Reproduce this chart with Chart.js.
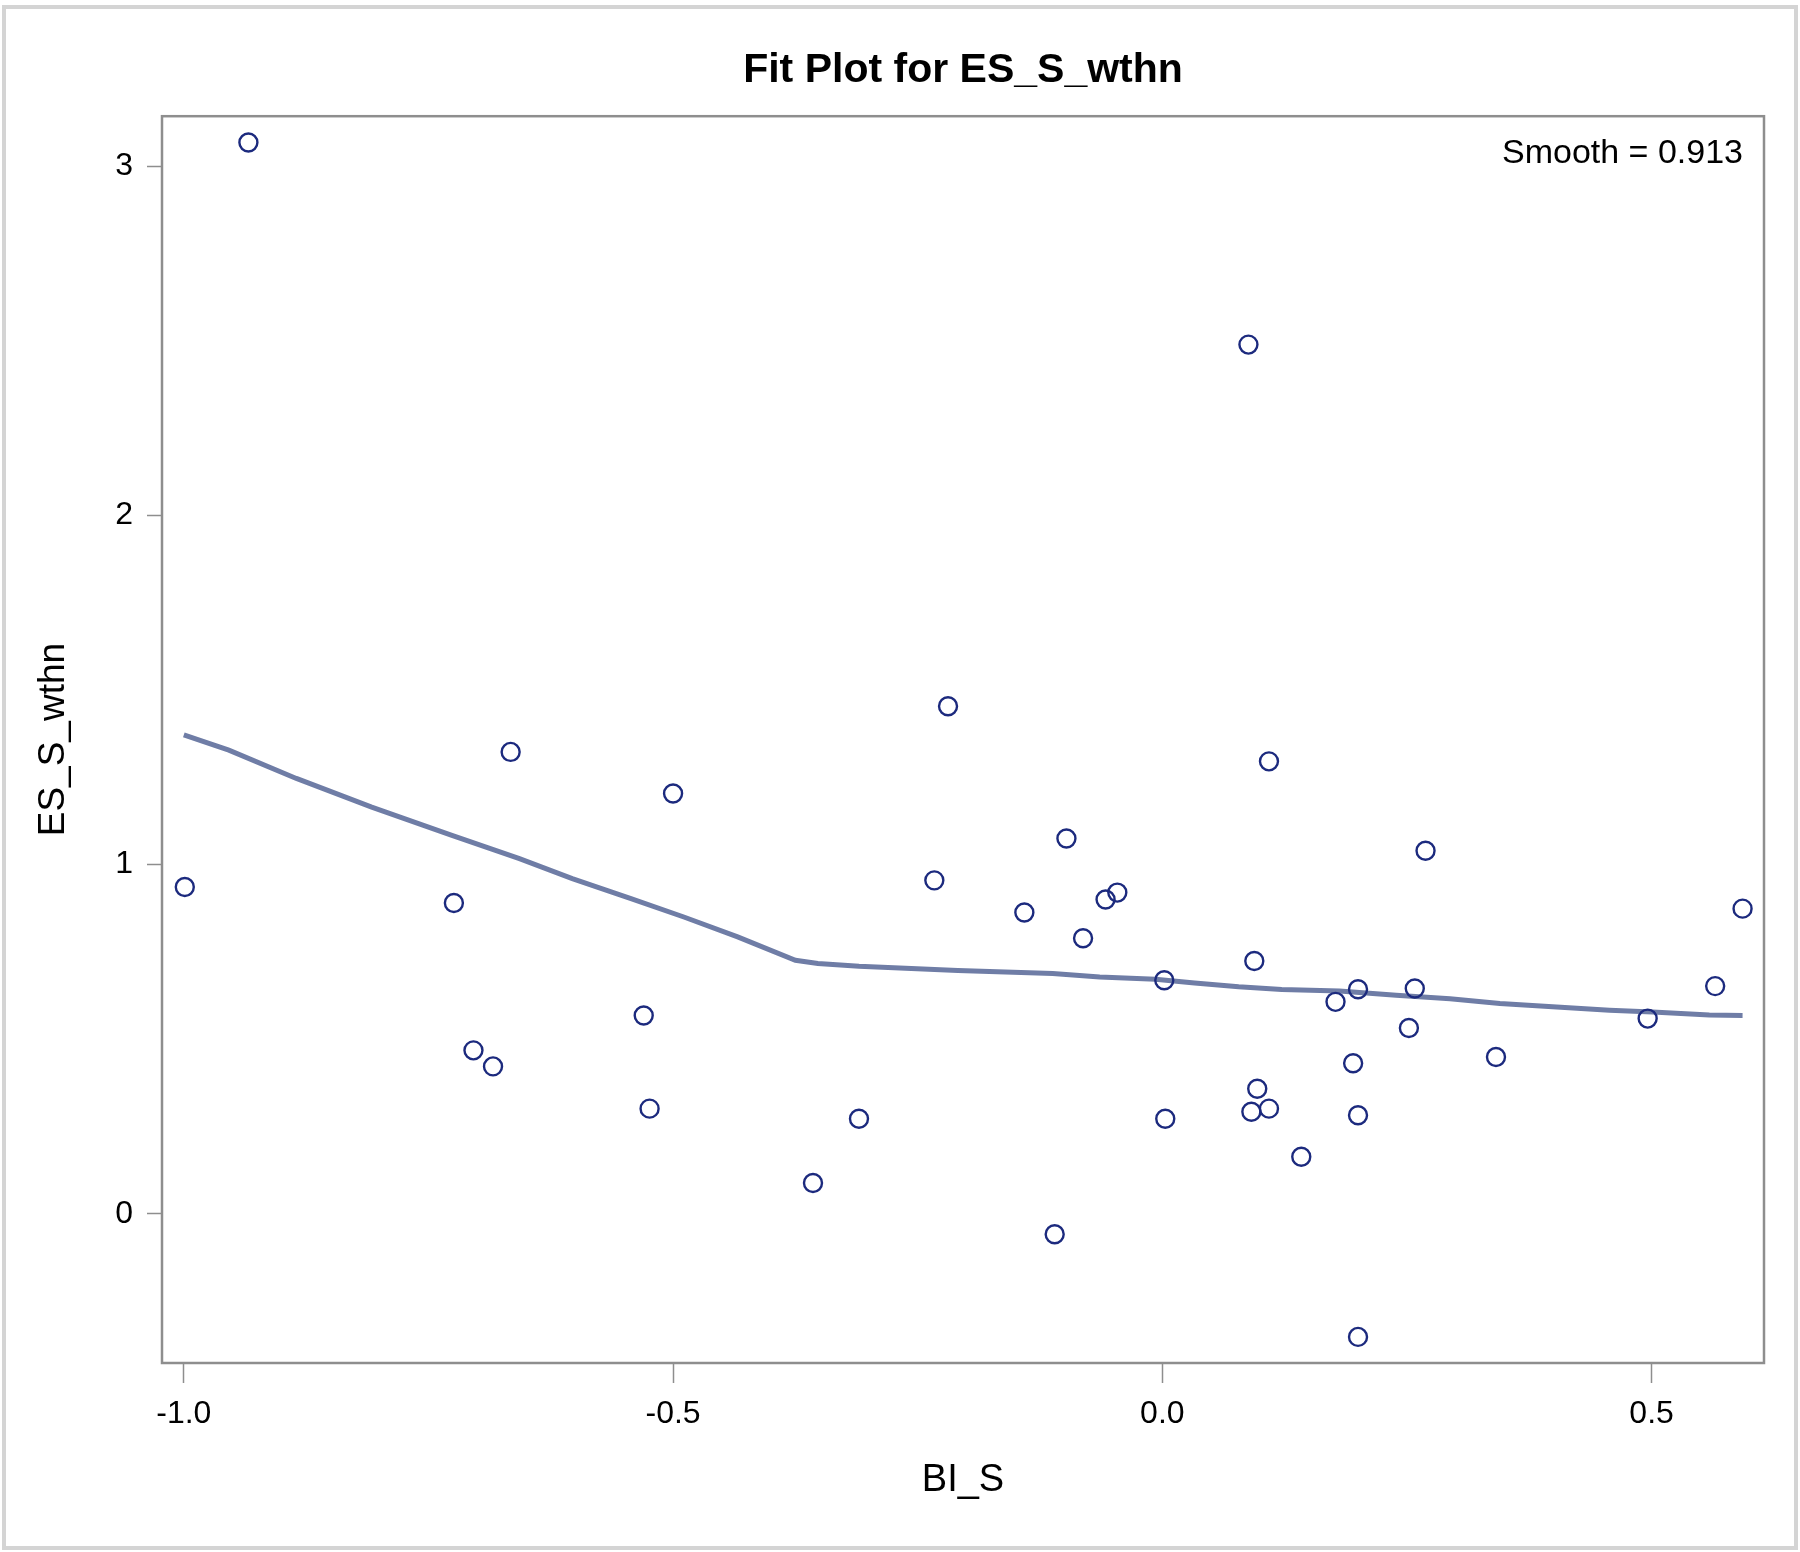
<!DOCTYPE html>
<html><head><meta charset="utf-8">
<script src="https://cdn.jsdelivr.net/npm/chart.js@4.4.1/dist/chart.umd.min.js"></script>
<style>html,body{margin:0;padding:0;background:#fff}#wrap{width:1800px;height:1552px;position:relative}</style>
</head><body><div id="wrap"><canvas id="c" width="1800" height="1552"></canvas></div>
<script>
const chartTitle = 'Fit Plot for ES_S_wthn';
const xAxisTitle = 'BI_S';
const yAxisTitle = 'ES_S_wthn';
const smoothLabel = 'Smooth = 0.913';

// observations
const biS = [-0.934, -0.999, -0.724, -0.666, -0.704, -0.684, -0.500, -0.530, -0.524, -0.357,
             -0.310, -0.233, -0.219, -0.141, -0.110, -0.098, -0.081, -0.058, -0.046, 0.002,
             0.003, 0.088, 0.094, 0.097, 0.091, 0.109, 0.109, 0.142, 0.177, 0.200,
             0.195, 0.200, 0.200, 0.252, 0.258, 0.269, 0.341, 0.496, 0.565, 0.593];
const esSWthn = [3.069, 0.936, 0.890, 1.323, 0.468, 0.422, 1.204, 0.568, 0.301, 0.088,
                 0.272, 0.955, 1.454, 0.863, -0.059, 1.075, 0.789, 0.900, 0.920, 0.669,
                 0.272, 2.490, 0.724, 0.358, 0.292, 0.301, 1.296, 0.163, 0.607, 0.643,
                 0.431, 0.282, -0.353, 0.532, 0.645, 1.040, 0.449, 0.559, 0.652, 0.874];

// loess smooth curve
const smoothX = [-1.0, -0.954, -0.885, -0.808, -0.726, -0.657, -0.603, -0.543, -0.489, -0.434,
                 -0.375, -0.352, -0.310, -0.209, -0.112, -0.064, -0.007, 0.033, 0.078, 0.122,
                 0.181, 0.239, 0.294, 0.345, 0.403, 0.457, 0.501, 0.559, 0.593];
const smoothY = [1.372, 1.328, 1.247, 1.165, 1.084, 1.017, 0.960, 0.903, 0.850, 0.793,
                 0.726, 0.717, 0.709, 0.697, 0.688, 0.678, 0.672, 0.661, 0.650, 0.642,
                 0.638, 0.626, 0.616, 0.602, 0.592, 0.583, 0.578, 0.569, 0.568];

const xTickValues = [-1.0, -0.5, 0.0, 0.5];
const yTickValues = [0, 1, 2, 3];
const xRange = [-1.0223, 0.6149];
const yRange = [-0.4278, 3.1444];

const FONT = '"Liberation Sans", Arial, Helvetica, sans-serif';
Chart.defaults.font.family = FONT;
Chart.defaults.color = '#000';

const scatterPts = biS.map((x, i) => ({x: x, y: esSWthn[i]}));
const smoothPts = smoothX.map((x, i) => ({x: x, y: smoothY[i]}));

const decor = {
  id: 'decor',
  beforeDraw(chart) {
    const ctx = chart.ctx;
    ctx.save();
    ctx.fillStyle = '#fff';
    ctx.fillRect(0, 0, chart.width, chart.height);
    ctx.strokeStyle = '#d4d4d4';
    ctx.lineWidth = 4;
    ctx.strokeRect(4, 7, chart.width - 8, chart.height - 11);
    ctx.restore();
  },
  afterDatasetsDraw(chart) {
    const ctx = chart.ctx, a = chart.chartArea;
    ctx.save();
    ctx.font = '34px ' + FONT;
    ctx.fillStyle = '#000';
    ctx.textAlign = 'right';
    ctx.textBaseline = 'middle';
    ctx.fillText(smoothLabel, a.right - 21, a.top + 37);
    ctx.restore();
  },
  afterDraw(chart) {
    const ctx = chart.ctx, a = chart.chartArea;
    ctx.save();
    ctx.strokeStyle = '#8e8e8e';
    ctx.lineWidth = 2.5;
    ctx.strokeRect(a.left, a.top, a.right - a.left, a.bottom - a.top);
    ctx.restore();
  }
};

new Chart(document.getElementById('c'), {
  type: 'scatter',
  data: {
    datasets: [
      {
        label: 'Observations',
        data: scatterPts,
        order: 0,
        pointStyle: 'circle',
        pointRadius: 9,
        pointHoverRadius: 9,
        pointBorderWidth: 2.4,
        pointBorderColor: '#1c2a7e',
        pointBackgroundColor: 'rgba(0,0,0,0)',
        showLine: false
      },
      {
        label: 'Smooth',
        data: smoothPts,
        order: 1,
        showLine: true,
        borderColor: '#6f7da6',
        borderWidth: 5,
        pointRadius: 0,
        pointHoverRadius: 0,
        tension: 0,
        fill: false
      }
    ]
  },
  options: {
    responsive: false,
    animation: false,
    devicePixelRatio: 1,
    events: [],
    layout: {padding: {left: 0, right: 36, top: 0, bottom: 0}},
    plugins: {
      legend: {display: false},
      tooltip: {enabled: false},
      title: {
        display: true,
        text: chartTitle,
        fullSize: false,
        color: '#000',
        font: {size: 41, weight: 'bold', family: FONT},
        padding: {top: 46, bottom: 21}
      }
    },
    scales: {
      x: {
        type: 'linear',
        position: 'bottom',
        min: xRange[0],
        max: xRange[1],
        afterBuildTicks: s => { s.ticks = xTickValues.map(v => ({value: v})); },
        afterFit: s => { s.height = 189; },
        border: {display: false},
        grid: {drawOnChartArea: false, drawTicks: true, tickLength: 20, tickColor: '#8e8e8e', tickWidth: 1.5},
        ticks: {
          font: {size: 32},
          color: '#000',
          padding: 12,
          maxRotation: 0,
          autoSkip: false,
          callback: v => Number(v).toFixed(1)
        },
        title: {display: true, text: xAxisTitle, font: {size: 38}, color: '#000', padding: {top: 0, bottom: 49}}
      },
      y: {
        type: 'linear',
        position: 'left',
        min: yRange[0],
        max: yRange[1],
        afterBuildTicks: s => { s.ticks = yTickValues.map(v => ({value: v})); },
        afterFit: s => { s.width = 162; },
        border: {display: false},
        grid: {drawOnChartArea: false, drawTicks: true, tickLength: 15, tickColor: '#8e8e8e', tickWidth: 1.5},
        ticks: {
          font: {size: 32},
          color: '#000',
          padding: 14,
          autoSkip: false,
          callback: v => String(Math.round(v))
        },
        title: {display: true, text: yAxisTitle, font: {size: 37}, color: '#000', padding: {top: 32, bottom: 0}}
      }
    }
  },
  plugins: [decor]
});
</script>
</body></html>
